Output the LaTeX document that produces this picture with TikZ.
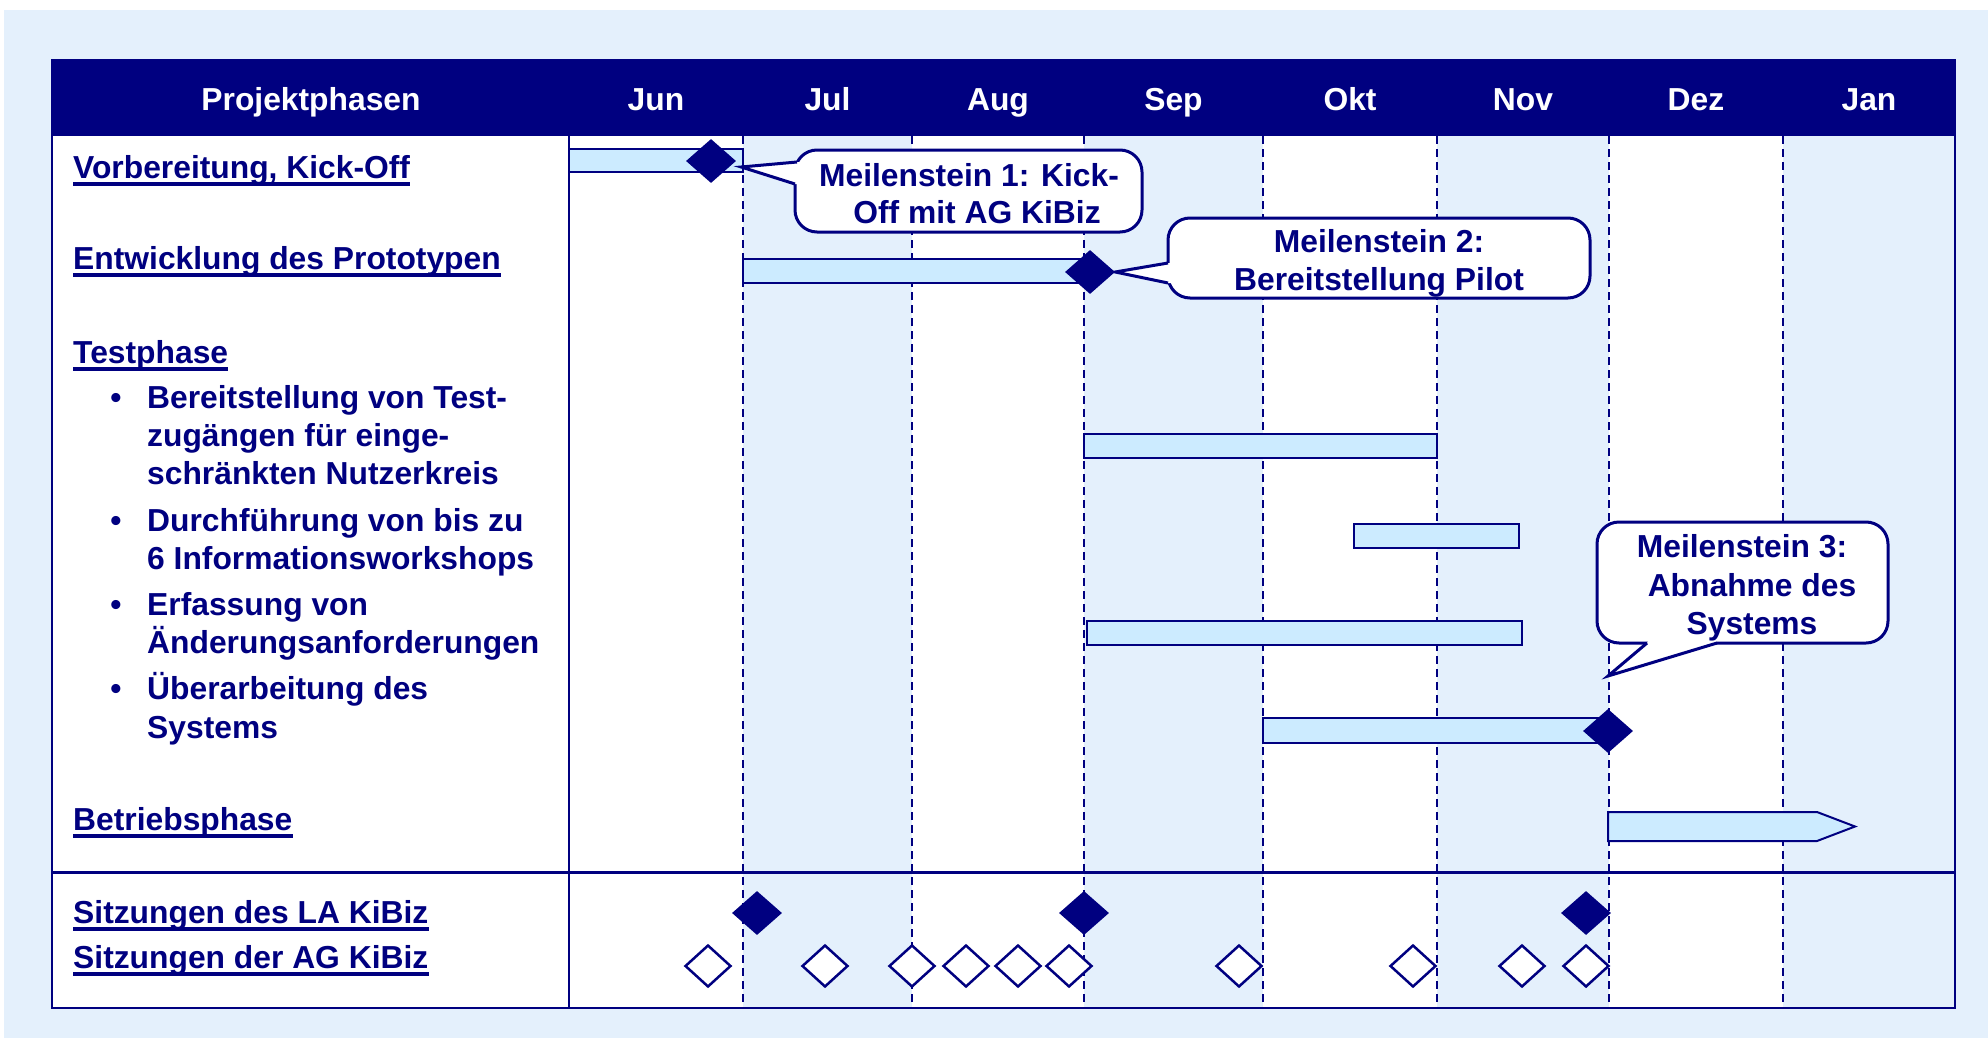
\documentclass[tikz,border=0pt]{standalone}
\usepackage{fontspec}
\setmainfont{Liberation Sans}
\usetikzlibrary{shapes.geometric}
\definecolor{navy}{HTML}{000080}
\definecolor{bgblue}{HTML}{E4F0FC}
\definecolor{barblue}{HTML}{CCEBFF}
\begin{document}
\begin{tikzpicture}[x=1pt,y=-1pt,
  every node/.style={font=\fontsize{31.8}{38.5}\selectfont\bfseries, inner sep=0pt, text=navy},
  lbl/.style={anchor=base west},
  hd/.style={anchor=base, text=white},
  ctext/.style={anchor=base},
  bar/.style={fill=barblue, draw=navy, line width=2pt},
  msf/.style={diamond, fill=navy, minimum width=50pt, minimum height=44pt},
  mso/.style={diamond, fill=white, draw=navy, line width=2.5pt, minimum width=46pt, minimum height=42pt},
  gridline/.style={navy, line width=1.8pt, dash pattern=on 8pt off 5pt},
  co/.style={fill=white, draw=navy, line width=3pt, rounded corners=22pt},
  wedgefill/.style={fill=white},
  ptr/.style={draw=navy, line width=3pt, line join=miter},
  ul/.style={navy, line width=3.4pt}]
\useasboundingbox (0,0) rectangle (1988,1038);
\fill[white] (0,0) rectangle (1988,1038);
\fill[bgblue] (4,10) rectangle (1988,1038);
% table body
\fill[white] (52,136) rectangle (1955,1008);
\foreach \a/\b in {743/912,1084/1263,1437/1609,1783/1955}
  \fill[bgblue] (\a,136) rectangle (\b,1008);
\foreach \x in {743,912,1084,1263,1437,1609,1783}
  \draw[gridline] (\x,136) -- (\x,1008);
% header
\fill[navy] (52,60) rectangle (1955,136);
\draw[navy, line width=2.5pt] (52,60) rectangle (1955,1008);
\draw[navy, line width=2pt] (569,136) -- (569,1008);
\draw[navy, line width=3pt] (52,872) -- (1955,872);
\node[hd] (hp) at (311,111) {Projektphasen};
\foreach \m/\x [count=\i] in {Jun/656,Jul/827.5,Aug/998,Sep/1173.5,Okt/1350,Nov/1523,Dez/1696,Jan/1869}
  \node[hd] (mon\i) at (\x,111) {\m};
% left labels
\node[lbl] (vor) at (73,178) {Vorbereitung, Kick-Off};
\node[lbl] (ent) at (73,269) {Entwicklung des Prototypen};
\node[lbl] (tst) at (73,363) {Testphase};
\node[lbl] (bet) at (73,830) {Betriebsphase};
\node[lbl] (sla) at (73,923) {Sitzungen des LA KiBiz};
\node[lbl] (sag) at (73,968) {Sitzungen der AG KiBiz};
\foreach \n in {vor,ent,tst,bet,sla,sag}
  \draw[ul] ([yshift=-6pt]\n.base west) -- ([yshift=-6pt]\n.base east);
\foreach \y [count=\i] in {408,531,615,699}
  \node[anchor=base] (bul\i) at (116,\y) {•};
\node[lbl] (b1a) at (147,408) {Bereitstellung von Test-};
\node[lbl] (b1b) at (147,446) {zugängen für einge-};
\node[lbl] (b1c) at (147,484) {schränkten Nutzerkreis};
\node[lbl] (b2a) at (147,531) {Durchführung von bis zu};
\node[lbl] (b2b) at (147,569) {6 Informationsworkshops};
\node[lbl] (b3a) at (147,615) {Erfassung von};
\node[lbl] (b3b) at (147,653) {Änderungsanforderungen};
\node[lbl] (b4a) at (147,699) {Überarbeitung des};
\node[lbl] (b4b) at (147,738) {Systems};
% bars
\draw[bar] (569,149) rectangle (743,172);
\draw[bar] (743,259) rectangle (1086,283);
\draw[bar] (1084,434) rectangle (1437,458);
\draw[bar] (1354,524) rectangle (1519,548);
\draw[bar] (1087,621) rectangle (1522,645);
\draw[bar] (1263,718) rectangle (1600,743);
\draw[bar] (1608,812) -- (1817,812) -- (1855,826.5) -- (1817,841) -- (1608,841) -- cycle;
% milestones
\node[msf] (d1) at (711,161) {};
\node[msf] (d2) at (1090,272) {};
\node[msf] (d3) at (1608,731) {};
\foreach \x [count=\i] in {757,1084,1586}
  \node[msf] (la\i) at (\x,913) {};
\foreach \x [count=\i] in {708,825,912,966,1018,1069,1239,1413,1522,1586}
  \node[mso] (ag\i) at (\x,966) {};
% callout 1
\coordinate (t1) at ([xshift=5pt,yshift=-6pt]d1.east);
\draw[co] (795,150) rectangle (1142,232);
\fill[wedgefill] (t1) -- (796,162) -- (801,162) -- (801,184) -- (795,184) -- cycle;
\draw[ptr] (797,162) -- (t1) -- (795,184);
\node[ctext] (m1a) at (969,186) {Meilenstein 1: Kick-};
\node[ctext] (m1b) at (977,223) {Off mit AG KiBiz};
% callout 2
\coordinate (t2) at (d2.east);
\draw[co] (1168,218) rectangle (1590,298);
\fill[wedgefill] (t2) -- (1168,263) -- (1172,263) -- (1172,283) -- (1168,283) -- cycle;
\draw[ptr] (1168,263) -- (t2) -- (1168,283);
\node[ctext] (m2a) at (1379,252) {Meilenstein 2:};
\node[ctext] (m2b) at (1379,290) {Bereitstellung Pilot};
% callout 3
\coordinate (t3) at (1608,676);
\draw[co] (1597,522) rectangle (1888,643);
\fill[wedgefill] (t3) -- (1647,643) -- (1649,639) -- (1715,639) -- (1717,643) -- cycle;
\draw[ptr] (1647,643) -- (t3) -- (1717,643);
\node[ctext] (m3a) at (1742,557) {Meilenstein 3:};
\node[ctext] (m3b) at (1752,596) {Abnahme des};
\node[ctext] (m3c) at (1752,634) {Systems};
\end{tikzpicture}
\end{document}
